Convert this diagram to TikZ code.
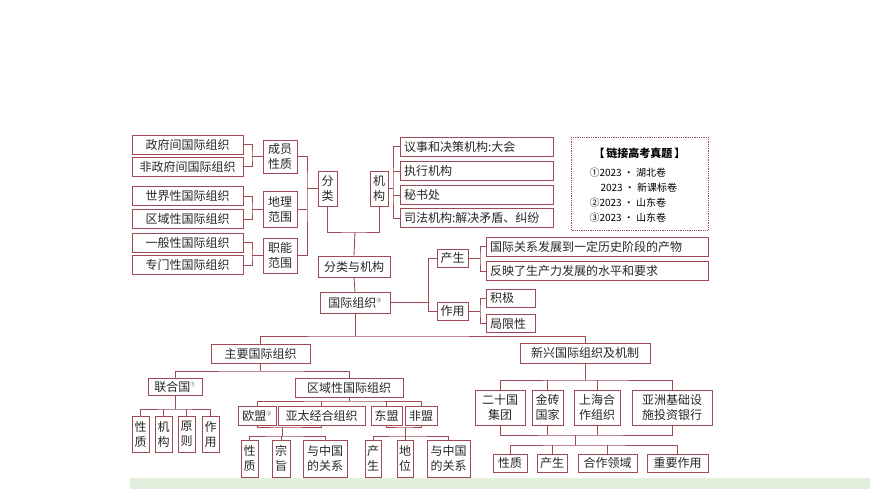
\documentclass[tikz,border=0pt]{standalone}
\usepackage{fontspec}
\newfontfamily\cjk{Noto Sans CJK SC}
\definecolor{frame}{HTML}{A04A55}
\definecolor{strip}{HTML}{E2EFDC}
\tikzset{
  box/.style={draw=frame,line width=0.9pt,inner sep=0pt,align=center,
    font=\cjk\fontsize{12}{15}\selectfont,text=black!85},
  link/.style={draw=frame,line width=0.9pt}
}
\begin{document}
\begin{tikzpicture}[x=1pt,y=-1pt]
    \useasboundingbox (0,0) rectangle (870,489);
    \fill[strip] (130,478) rectangle (870,489);

    % classification
    \node[box,minimum width=111,minimum height=19] (zf) at (187.5,144.5) {政府间国际组织};
    \node[box,minimum width=111,minimum height=19] (fz) at (187.5,166.5) {非政府间国际组织};
    \node[box,minimum width=111,minimum height=19] (sj) at (187.5,196) {世界性国际组织};
    \node[box,minimum width=111,minimum height=19] (qyx) at (187.5,219) {区域性国际组织};
    \node[box,minimum width=111,minimum height=19] (yb) at (187.5,242.5) {一般性国际组织};
    \node[box,minimum width=111,minimum height=19] (zm) at (187.5,265) {专门性国际组织};
    \node[box,minimum width=34,minimum height=33] (cy) at (280,156.5) {成员\\性质};
    \node[box,minimum width=34,minimum height=36] (dl) at (280,209) {地理\\范围};
    \node[box,minimum width=34,minimum height=35] (zn) at (280,255.5) {职能\\范围};
    \node[box,minimum width=19,minimum height=35] (fl) at (327.5,188.5) {分\\类};
    \node[box,minimum width=18,minimum height=35] (jg) at (379,188.5) {机\\构};
    \node[box,minimum width=153,minimum height=19,text width=145,align=left] (ys) at (476.5,146.5) {议事和决策机构:大会};
    \node[box,minimum width=153,minimum height=19,text width=145,align=left] (zx) at (476.5,171) {执行机构};
    \node[box,minimum width=153,minimum height=19,text width=145,align=left] (ms) at (476.5,195) {秘书处};
    \node[box,minimum width=153,minimum height=19,text width=145,align=left] (sf) at (476.5,218) {司法机构:解决矛盾、纠纷};
    \node[box,minimum width=72,minimum height=21] (flj) at (354,266.5) {分类与机构};
    \node[box,minimum width=70,minimum height=21] (gj) at (355,302.5) {国际组织\textsuperscript{\tiny ③}};

    \draw[link] (zf.east) -| (252,156.5) |- (fz.east);
    \draw[link] (252,156.5) -- (cy.west);
    \draw[link] (sj.east) -| (252,209) |- (qyx.east);
    \draw[link] (252,209) -- (dl.west);
    \draw[link] (yb.east) -| (252,255.5) |- (zm.east);
    \draw[link] (252,255.5) -- (zn.west);
    \draw[link] (cy.east) -| (307,188.5) |- (zn.east);
    \draw[link] (dl.east) -- (307,209);
    \draw[link] (307,188.5) -- (fl.west);
    \draw[link] (ys.west) -| (393,188.5) |- (sf.west);
    \draw[link] (zx.west) -- (393,171);
    \draw[link] (ms.west) -- (393,195);
    \draw[link] (jg.east) -- (393,188.5);
    \draw[link] (fl.south) |- (355,232) -| (jg.south);
    \draw[link] (355,232) -- (flj.north);
    \draw[link] (flj.south) -- (gj.north);

    % origin and role
    \node[box,minimum width=31,minimum height=18] (cs) at (452.5,258) {产生};
    \node[box,minimum width=31,minimum height=18] (zy) at (452.5,311) {作用};
    \node[box,minimum width=222,minimum height=19,text width=214,align=left] (gx) at (597,246.5) {国际关系发展到一定历史阶段的产物};
    \node[box,minimum width=222,minimum height=19,text width=214,align=left] (fy) at (597,271) {反映了生产力发展的水平和要求};
    \node[box,minimum width=49,minimum height=18,text width=41,align=left] (jj) at (510.5,298) {积极};
    \node[box,minimum width=49,minimum height=18,text width=41,align=left] (jx) at (510.5,323.5) {局限性};
    \draw[link] (gj.east) -| (428,258) -- (cs.west);
    \draw[link] (428,280) |- (zy.west);
    \draw[link] (gx.west) -| (480,258) |- (fy.west);
    \draw[link] (cs.east) -- (480,258);
    \draw[link] (jj.west) -| (480,311) |- (jx.west);
    \draw[link] (zy.east) -- (480,311);

    % exam links
    \draw[frame,densely dotted,line width=0.8pt] (571,137) rectangle (708,230);
    \node[font=\cjk\fontsize{11}{13}\selectfont\bfseries] (lt) at (639.5,153) {【\,链接高考真题\,】};
    \node[font=\cjk\fontsize{10}{13}\selectfont,anchor=west] (l1) at (586,173) {①2023 · 湖北卷};
    \node[font=\cjk\fontsize{10}{13}\selectfont,anchor=west] (l2) at (597,188) {2023 · 新课标卷};
    \node[font=\cjk\fontsize{10}{13}\selectfont,anchor=west] (l3) at (586,203) {②2023 · 山东卷};
    \node[font=\cjk\fontsize{10}{13}\selectfont,anchor=west] (l4) at (586,218) {③2023 · 山东卷};

    % main organisations
    \node[box,minimum width=99,minimum height=19] (zyo) at (260.5,353.5) {主要国际组织};
    \node[box,minimum width=130,minimum height=20] (xx) at (585,353) {新兴国际组织及机制};
    \draw[link] (gj.south) -- (355,336);
    \draw[link] (zyo.north) |- (355,336) -| (xx.north);

    \node[box,minimum width=54,minimum height=17] (lhg) at (175,386.5) {联合国\textsuperscript{\tiny ①}};
    \node[box,minimum width=108,minimum height=19] (qy) at (349,387.5) {区域性国际组织};
    \draw[link] (zyo.south) -- (260.5,371);
    \draw[link] (lhg.north) |- (260.5,371) -| (qy.north);

    \node[box,minimum width=17,minimum height=36] (u1) at (140.5,434) {性\\质};
    \node[box,minimum width=17,minimum height=36] (u2) at (163.5,434) {机\\构};
    \node[box,minimum width=17,minimum height=36] (u3) at (186.5,434) {原\\则};
    \node[box,minimum width=17,minimum height=36] (u4) at (210.5,434) {作\\用};
    \draw[link] (lhg.south) -- (175,409);
    \draw[link] (u1.north) |- (175,409) -| (u4.north);
    \draw[link] (u2.north) -- (163.5,409);
    \draw[link] (u3.north) -- (186.5,409);

    \node[box,minimum width=38,minimum height=19] (om) at (257,415.5) {欧盟\textsuperscript{\tiny ②}};
    \node[box,minimum width=87,minimum height=19] (ap) at (321.5,415.5) {亚太经合组织};
    \node[box,minimum width=31,minimum height=19] (dm) at (386.5,415.5) {东盟};
    \node[box,minimum width=32,minimum height=19] (fm) at (421,415.5) {非盟};
    \draw[link] (qy.south) -- (349,401);
    \draw[link] (om.north) |- (349,401) -| (fm.north);
    \draw[link] (ap.north) -- (321.5,401);
    \draw[link] (dm.north) -- (386.5,401);

    \node[box,minimum width=17,minimum height=37] (a1) at (249.5,458.5) {性\\质};
    \node[box,minimum width=18,minimum height=37] (a2) at (281,458.5) {宗\\旨};
    \node[box,minimum width=44,minimum height=37] (a3) at (325,458.5) {与中国\\的关系};
    \draw[link] (om.south) |- (282,427) -| (ap.south);
    \draw[link] (282,427) -- (282,436);
    \draw[link] (a1.north) |- (282,436) -| (a3.north);
    \draw[link] (a2.north) -- (281,436);

    \node[box,minimum width=16,minimum height=37] (b1) at (373,458.5) {产\\生};
    \node[box,minimum width=16,minimum height=37] (b2) at (405,458.5) {地\\位};
    \node[box,minimum width=43,minimum height=37] (b3) at (448.5,458.5) {与中国\\的关系};
    \draw[link] (dm.south) |- (405,427) -| (fm.south);
    \draw[link] (405,427) -- (b2.north);
    \draw[link] (b1.north) |- (405,436) -| (b3.north);

    % emerging organisations
    \node[box,minimum width=50,minimum height=35] (e1) at (500,407.5) {二十国\\集团};
    \node[box,minimum width=31,minimum height=35] (e2) at (547.5,407.5) {金砖\\国家};
    \node[box,minimum width=46,minimum height=35] (e3) at (597,407.5) {上海合\\作组织};
    \node[box,minimum width=80,minimum height=35] (e4) at (672,407.5) {亚洲基础设\\施投资银行};
    \draw[link] (xx.south) -- (585,380);
    \draw[link] (e1.north) |- (585,380) -| (e4.north);
    \draw[link] (e2.north) -- (547.5,380);
    \draw[link] (e3.north) -- (597,380);

    \node[box,minimum width=34,minimum height=18] (f1) at (510,463) {性质};
    \node[box,minimum width=30,minimum height=18] (f2) at (552,463) {产生};
    \node[box,minimum width=59,minimum height=18] (f3) at (607.5,463) {合作领域};
    \node[box,minimum width=61,minimum height=18] (f4) at (677.5,463) {重要作用};
    \draw[link] (e1.south) |- (575,435) -| (e4.south);
    \draw[link] (e2.south) -- (547.5,435);
    \draw[link] (e3.south) -- (597,435);
    \draw[link] (575,435) -- (575,445);
    \draw[link] (f1.north) |- (575,445) -| (f4.north);
    \draw[link] (f2.north) -- (552,445);
    \draw[link] (f3.north) -- (607.5,445);
\end{tikzpicture}
\end{document}
